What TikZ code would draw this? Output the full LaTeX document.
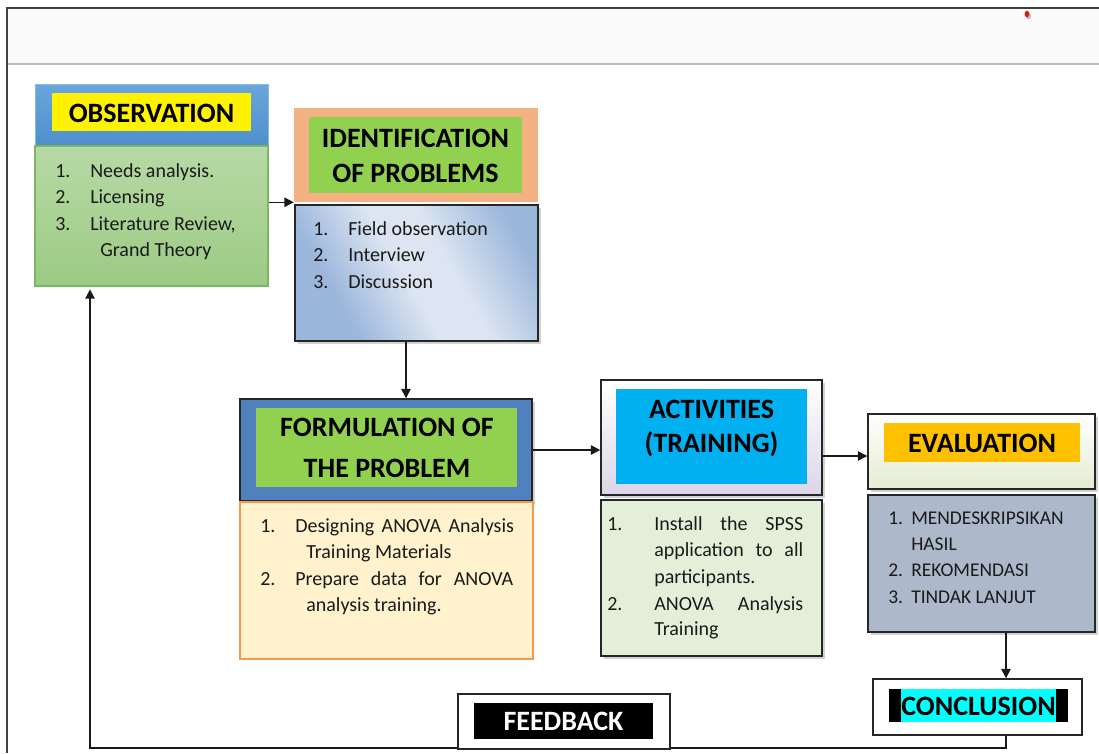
\documentclass[tikz,border=0pt]{standalone}
\usepackage{fontspec}
\setmainfont{Carlito}
\usetikzlibrary{fit,shadows,arrows.meta}
\definecolor{obsblue}{HTML}{5B9BD5}
\definecolor{obsblueT}{HTML}{6AA6DC}
\definecolor{obsblueB}{HTML}{4E8FCC}
\definecolor{obsgreenT}{HTML}{B7D9A5}
\definecolor{obsgreenB}{HTML}{9CCB84}
\definecolor{obsgreenD}{HTML}{7DB662}
\definecolor{peach}{HTML}{F4B183}
\definecolor{lgreen}{HTML}{92D050}
\definecolor{idblueD}{HTML}{9CB7DC}
\definecolor{idblueL}{HTML}{DCE5F1}
\definecolor{formblue}{HTML}{4F81BD}
\definecolor{formbody}{HTML}{FFF2CC}
\definecolor{formorange}{HTML}{F29A4E}
\definecolor{lavender}{HTML}{DDD5E8}
\definecolor{actcyan}{HTML}{00B0F0}
\definecolor{actbody}{HTML}{E3EFD9}
\definecolor{evalgreen}{HTML}{E4ECD2}
\definecolor{evalorange}{HTML}{FFC000}
\definecolor{evalbody}{HTML}{ADB9CA}
\definecolor{conccyan}{HTML}{00FFFF}
\definecolor{framegray}{HTML}{404040}
\definecolor{linegray}{HTML}{BBBBBB}
\definecolor{dotred}{HTML}{E01818}
\definecolor{txt}{HTML}{1A1A1A}
\pgfdeclareverticalshading{idshade}{100bp}{color(0bp)=(idblueD); color(30bp)=(idblueD); color(47bp)=(idblueL); color(58bp)=(idblueL); color(76bp)=(idblueD); color(100bp)=(idblueD)}
\begin{document}
\begin{tikzpicture}[x=0.75pt,y=-0.75pt,
  area/.style={inner sep=0pt},
  dark/.style={draw=black!85,line width=1.1pt},
  shadowed/.style={drop shadow={shadow xshift=2.5pt,shadow yshift=-2.5pt,opacity=0.35}},
  bodytxt/.style={anchor=base west,inner sep=0pt,text=txt,font=\fontsize{15}{18}\selectfont},
  evaltxt/.style={anchor=base west,inner sep=0pt,text=txt,font=\fontsize{14.6}{17}\selectfont},
  ttl/.style={anchor=base,inner sep=0pt,font=\fontsize{21}{24}\selectfont\bfseries},
  arr/.style={-{Triangle[length=7pt,width=7pt]},line width=1.1pt,draw=black!90},
]
\useasboundingbox (0,0) rectangle (1099,753);
\fill[white] (0,0) rectangle (1099,753);
% window frame
\fill[black!2] (7,8) rectangle (1099,64);
\draw[linegray,line width=1.2pt] (7,64) -- (1099,64);
\draw[framegray,line width=1.5pt] (7,753) -- (7,8) -- (1099,8);
\fill[black!25] (1028.5,16) ellipse (2.5 and 3.5);
\fill[dotred] (1027,14) ellipse (2.3 and 3.3);

% ---------- OBSERVATION ----------
\node[area,fit={(35,84)(268,145)},top color=obsblueT,bottom color=obsblueB,draw=obsblue!70!white,line width=0.6pt] (obsH) {};
\node[area,fit={(52,93)(251,131)},fill=yellow] (obsT) {};
\node[ttl] (obsL) at (151.5,122) {OBSERVATION};
\node[area,fit={(35,146)(268,286)},top color=obsgreenT,bottom color=obsgreenB,draw=obsgreenD,line width=1pt] (obsB) {};
\node[bodytxt] (o1n) at (55,177) {1.};
\node[bodytxt] (o1) at (90,177) {Needs analysis.};
\node[bodytxt] (o2n) at (55,203) {2.};
\node[bodytxt] (o2) at (90,203) {Licensing};
\node[bodytxt] (o3n) at (55,230) {3.};
\node[bodytxt] (o3) at (90,230) {Literature Review,};
\node[bodytxt] (o3b) at (100,256) {Grand Theory};

% ---------- IDENTIFICATION ----------
\node[area,fit={(294,108)(538,202)},fill=peach] (idH) {};
\node[area,fit={(309,117)(522,193)},fill=lgreen] (idT) {};
\node[ttl] (idL1) at (415.5,147) {IDENTIFICATION};
\node[ttl] (idL2) at (415.5,182) {OF PROBLEMS};
\node[area,fit={(295,205)(538,341)},shadowed,dark,shading=idshade,shading angle=-60] (idB) {};
\node[bodytxt] (i1n) at (313,235) {1.};
\node[bodytxt] (i1) at (348,235) {Field observation};
\node[bodytxt] (i2n) at (313,261) {2.};
\node[bodytxt] (i2) at (348,261) {Interview};
\node[bodytxt] (i3n) at (313,288) {3.};
\node[bodytxt] (i3) at (348,288) {Discussion};

% ---------- FORMULATION ----------
\node[area,fit={(240,399)(532,501)},fill=formblue,dark,shadowed] (formH) {};
\node[area,fit={(256,408)(517,487)},fill=lgreen] (formT) {};
\node[ttl] (fL1) at (387,436) {FORMULATION OF};
\node[ttl] (fL2) at (387,477) {THE PROBLEM};
\node[area,fit={(240,502)(533,659)},fill=formbody,draw=formorange,line width=1pt] (formB) {};
\node[bodytxt] (f1n) at (260,532) {1.};
\node[bodytxt] (f1) at (295,532) {\makebox[164pt][s]{Designing ANOVA Analysis}};
\node[bodytxt] (f1b) at (306,558) {Training Materials};
\node[bodytxt] (f2n) at (260,585) {2.};
\node[bodytxt] (f2) at (295,585) {\makebox[163.5pt][s]{Prepare data for ANOVA}};
\node[bodytxt] (f2b) at (306,611) {analysis training.};

% ---------- ACTIVITIES ----------
\node[area,fit={(601,380)(822,495)},top color=white,bottom color=lavender,dark,shadowed] (actH) {};
\node[area,fit={(616,389)(807,484)},fill=actcyan] (actT) {};
\node[ttl] (aL1) at (711.5,418) {ACTIVITIES};
\node[ttl] (aL2) at (711.5,452) {(TRAINING)};
\node[area,fit={(601,500)(822,656)},fill=actbody,dark,shadowed] (actB) {};
\node[bodytxt] (a1n) at (607,530) {1.};
\node[bodytxt] (a1) at (654,530) {\makebox[111.75pt][s]{Install the SPSS}};
\node[bodytxt] (a1b) at (654,556) {\makebox[111.75pt][s]{application to all}};
\node[bodytxt] (a1c) at (654,583) {participants.};
\node[bodytxt] (a2n) at (607,610) {2.};
\node[bodytxt] (a2) at (654,610) {\makebox[111.75pt][s]{ANOVA Analysis}};
\node[bodytxt] (a2b) at (654,635) {Training};

% ---------- EVALUATION ----------
\node[area,fit={(868,414)(1095,489)},top color=white,bottom color=evalgreen,dark,shadowed] (evalH) {};
\node[area,fit={(884,423)(1080,462)},fill=evalorange] (evalT) {};
\node[ttl] (eL) at (982,452) {EVALUATION};
\node[area,fit={(868,495)(1095,632)},fill=evalbody,dark,shadowed] (evalB) {};
\node[evaltxt] (e1n) at (888,524) {1.};
\node[evaltxt] (e1) at (911,524) {MENDESKRIPSIKAN};
\node[evaltxt] (e1b) at (911,550) {HASIL};
\node[evaltxt] (e2n) at (888,576) {2.};
\node[evaltxt] (e2) at (911,576) {REKOMENDASI};
\node[evaltxt] (e3n) at (888,603) {3.};
\node[evaltxt] (e3) at (911,603) {TINDAK LANJUT};

% ---------- CONCLUSION ----------
\node[area,fit={(873,679)(1082,735)},fill=white,dark] (concl) {};
\node[area,fit={(889,689)(1068,722)},fill=black] (conclK) {};
\node[area,fit={(901,689)(1056,722)},fill=conccyan] (conclT) {};
\node[ttl] (cL) at (978.5,715) {CONCLUSION};

% ---------- connectors ----------
\coordinate (c1) at (406,0);
\coordinate (c2) at (0,456);
\coordinate (c3) at (1006,0);
\coordinate (c4) at (90,748);
\draw[arr] (obsB.east |- idH.south) -- (idH.south west);
\draw[arr] (c1 |- idB.south) -- (c1 |- formH.north);
\draw[arr] (formH.east) -- (formH.east -| actH.west);
\draw[arr] (actH.east |- c2) -- (evalH.west |- c2);
\draw[arr] (c3 |- evalB.south) -- (c3 |- concl.north);
\draw[arr,shorten >=2pt] (c3 |- concl.south) |- (c4) -- (c4 |- obsB.south);

% ---------- FEEDBACK ----------
\node[area,fit={(458,694)(670,749)},fill=white,dark] (fb) {};
\node[area,fit={(474,703)(653,739)},fill=black] (fbK) {};
\node[ttl,text=white] (fbL) at (563.5,730) {FEEDBACK};
\end{tikzpicture}
\end{document}
